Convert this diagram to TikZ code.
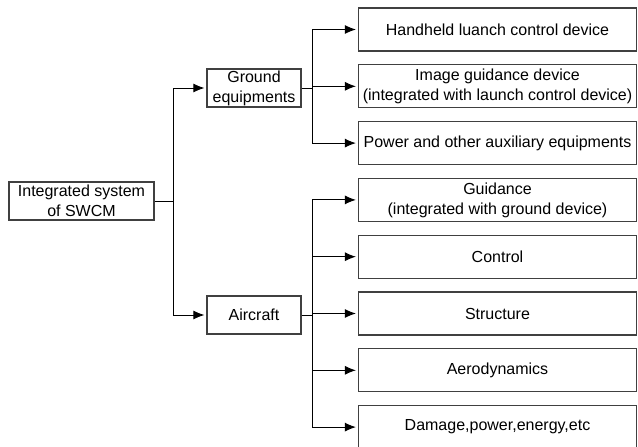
\documentclass[tikz,border=0pt]{standalone}
\usepackage{fontspec}
\setmainfont{Liberation Sans}
\usetikzlibrary{arrows.meta}
\tikzset{
  box/.style={draw=black!75, line width=1.2pt, align=center, inner sep=0pt},
  sys/.style={box, minimum width=145pt, minimum height=38pt},
  sub/.style={box, minimum width=94pt, minimum height=38pt},
  part/.style={box, minimum width=278pt, minimum height=43pt},
  link/.style={->, line width=0.9pt, shorten >=2pt}
}

\begin{document}
\begin{tikzpicture}[x=1pt, y=-1pt, node distance=56.8pt, >={Latex[length=11pt,width=9pt]},
    font=\fontsize{16}{20}\selectfont]
  \useasboundingbox (0,0) rectangle (638,447);
  \node[sys] (SWCM) at (81.5,201) {Integrated system\\of SWCM};
  \node[sub] (ground) at (254,88) {Ground\\equipments};
  \node[sub] (air) at (254,315) {Aircraft};
  % ground equipments
  \node[part] (hand) at (497.5,29.5) {Handheld luanch control device};
  \node[part] (image) [below of= hand] {Image guidance device\\(integrated with launch control device)};
  \node[part] (power) [below of= image] {Power and other auxiliary equipments};
  % aircraft
  \node[part] (guid) [below of= power] {Guidance\\(integrated with ground device)};
  \node[part] (ctrl) [below of= guid] {Control};
  \node[part] (struct) [below of= ctrl] {Structure};
  \node[part] (aero) [below of= struct] {Aerodynamics};
  \node[part] (dmg) [below of= aero] {Damage,power,energy,etc};
  \coordinate (split) at (173,201);
  \coordinate (gsplit) at (312.5,88);
  \coordinate (asplit) at (312.5,315);
  \draw[line width=0.9pt] (SWCM) -- (split);
  \draw[link] (split) |- (ground);
  \draw[link] (split) |- (air);
  \draw[line width=0.9pt] (ground) -- (gsplit);
  \draw[line width=0.9pt] (air) -- (asplit);
  \foreach \n in {hand, image, power}
    \draw[link] (gsplit) |- (\n);
  \foreach \n in {guid, ctrl, struct, aero, dmg}
    \draw[link] (asplit) |- (\n);
\end{tikzpicture}
\end{document}
